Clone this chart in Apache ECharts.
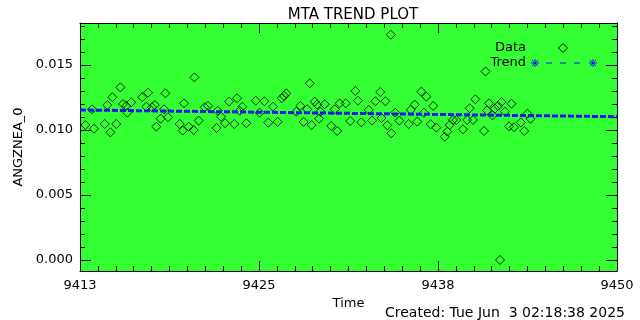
<!DOCTYPE html>
<html>
<head>
<meta charset="utf-8">
<script src="https://cdn.jsdelivr.net/npm/echarts@6/dist/echarts.min.js"></script>
<style>
  html, body {margin: 0; padding: 0; background: #fff;}
  #chart {width: 640px; height: 320px;}
</style>
</head>
<body>
<div id="chart"></div>
<script>
// data
const times = [
  9413.37, 9413.83, 9413.96, 9414.70, 9414.88, 9415.09, 9415.23, 9415.50, 9415.78, 9415.96,
  9416.19, 9416.26, 9416.53, 9417.29, 9417.57, 9417.69, 9417.96, 9418.15, 9418.26, 9418.56,
  9418.79, 9418.88, 9419.06, 9419.87, 9420.08, 9420.17, 9420.49, 9420.83, 9420.88, 9421.18,
  9421.59, 9421.82, 9422.41, 9422.49, 9422.72, 9422.99, 9423.27, 9423.63, 9423.82, 9424.00,
  9424.18, 9424.46, 9425.11, 9425.38, 9425.70, 9425.97, 9426.30, 9426.62, 9426.90, 9427.06,
  9427.21, 9427.90, 9428.18, 9428.41, 9428.66, 9428.83, 9428.96, 9429.17, 9429.33, 9429.47,
  9429.56, 9429.86, 9430.31, 9430.55, 9430.73, 9430.89, 9431.31, 9431.62, 9431.97, 9432.15,
  9432.38, 9432.89, 9433.12, 9433.35, 9433.69, 9433.77, 9434.04, 9434.17, 9434.41, 9434.45,
  9434.72, 9435.00, 9435.65, 9435.79, 9436.06, 9436.24, 9436.52, 9436.70, 9436.86, 9437.16,
  9437.34, 9437.55, 9438.13, 9438.31, 9438.47, 9438.70, 9438.93, 9439.39, 9439.68, 9439.85,
  9440.08, 9440.24, 9440.84, 9440.94, 9441.04, 9441.18, 9441.42, 9441.59, 9441.80, 9441.94,
  9442.04, 9442.28, 9442.56, 9442.73, 9442.90, 9443.38, 9443.61, 9443.83, 9444.04
]
const values = [
  0.01038, 0.01159, 0.01010, 0.01046, 0.01192, 0.00982, 0.01252, 0.01046, 0.01328, 0.01200,
  0.01185, 0.01133, 0.01213, 0.01252, 0.01179, 0.01287, 0.01175, 0.01192, 0.01025, 0.01087,
  0.01159, 0.01282, 0.01098, 0.01046, 0.00995, 0.01205, 0.01025, 0.01000, 0.01405, 0.01072,
  0.01175, 0.01185, 0.01015, 0.01148, 0.01102, 0.01052, 0.01218, 0.01046, 0.01244, 0.01148,
  0.01179, 0.01052, 0.01225, 0.01133, 0.01221, 0.01056, 0.01179, 0.01062, 0.01244, 0.01262,
  0.01282, 0.01141, 0.01185, 0.01062, 0.01159, 0.01359, 0.01038, 0.01218, 0.01195, 0.01087,
  0.01141, 0.01198, 0.01031, 0.01159, 0.00992, 0.01205, 0.01205, 0.01069, 0.01300, 0.01225,
  0.01059, 0.01154, 0.01072, 0.01221, 0.01292, 0.01092, 0.01221, 0.01036, 0.01733, 0.00975,
  0.01133, 0.01072, 0.01046, 0.01154, 0.01195, 0.01064, 0.01295, 0.01133, 0.01256, 0.01044,
  0.01185, 0.01018, 0.00948, 0.00987, 0.01038, 0.01077, 0.01077, 0.01005, 0.01077, 0.01167,
  0.01077, 0.01236, 0.00992, 0.01450, 0.01150, 0.01205, 0.01112, 0.01165, 0.01185, 0.00000,
  0.01215, 0.01141, 0.01028, 0.01202, 0.01021, 0.01058, 0.00992, 0.01125, 0.01086
]
const trendTimes = [9413, 9450]
const trendValues = [0.01154, 0.01102]

const xMin = 9413
const xMax = 9450
const yMin = -0.00085
const yMax = 0.01823
const xTickValues = [9413, 9425.3333, 9437.6667, 9450]
const xTickLabels = ['9413', '9425', '9438', '9450']
const yTickValues = [0, 0.005, 0.010, 0.015]
const yTickLabels = ['0.000', '0.005', '0.010', '0.015']

// minor ticks: 10 per major step on x, 5 on y
const xMinorValues = []
for (let i = 0; i <= 30; i++) xMinorValues.push(xMin + i * (xMax - xMin) / 30)
const yMinorValues = []
for (let i = 0; i <= 18; i++) yMinorValues.push(i * 0.001)

const FONT = 'DejaVu Sans'
const GREEN = '#33ff33'
const BLUE = '#1515f5'

function labelFor(vals, labels) {
    return function (v) {
        for (let i = 0; i < vals.length; i++) {
            if (Math.abs(vals[i] - v) < 1e-6) return labels[i]
        }
        return ''
    }
}

function xAxisOf(position, major, withLabels) {
    return {
        type: 'value', position: position, min: xMin, max: xMax,
        axisLine: {show: major, onZero: false, lineStyle: {color: '#000', width: 1}},
        axisTick: {show: true, inside: true, length: major ? 10 : 5,
            customValues: major ? xTickValues : xMinorValues, lineStyle: {color: '#000'}},
        axisLabel: {show: withLabels, customValues: xTickValues, margin: 8,
            formatter: labelFor(xTickValues, xTickLabels),
            fontFamily: FONT, fontSize: 13, color: '#000'},
        splitLine: {show: false},
        name: withLabels ? 'Time' : '', nameLocation: 'middle', nameGap: 23,
        nameTextStyle: {fontFamily: FONT, fontSize: 13, color: '#000'}
    }
}

function yAxisOf(position, major, withLabels) {
    return {
        type: 'value', position: position, min: yMin, max: yMax,
        axisLine: {show: major, onZero: false, lineStyle: {color: '#000', width: 1}},
        axisTick: {show: true, inside: true, length: major ? 11 : 5,
            customValues: major ? yTickValues : yMinorValues, lineStyle: {color: '#000'}},
        axisLabel: {show: withLabels, customValues: yTickValues, margin: 7,
            formatter: labelFor(yTickValues, yTickLabels),
            fontFamily: FONT, fontSize: 13, color: '#000'},
        splitLine: {show: false},
        name: withLabels ? 'ANGZNEA_0' : '', nameLocation: 'middle', nameGap: 49, nameRotate: 90,
        nameTextStyle: {fontFamily: FONT, fontSize: 13, color: '#000'}
    }
}

function asterisk(cx, cy) {
    const r = 4, d = 3
    const segs = [[-r, 0, r, 0], [0, -r, 0, r], [-d, -d, d, d], [-d, d, d, -d]]
    return {
        type: 'group', x: cx, y: cy,
        children: segs.map(s => ({
            type: 'line', shape: {x1: s[0], y1: s[1], x2: s[2], y2: s[3]},
            style: {stroke: BLUE, lineWidth: 1}
        }))
    }
}

const chart = echarts.init(document.getElementById('chart'), null, {renderer: 'canvas'})
chart.setOption({
    animation: false,
    backgroundColor: '#fff',
    title: {
        text: 'MTA TREND PLOT', left: 348, top: 3, textAlign: 'center',
        textStyle: {fontFamily: FONT, fontSize: 15, fontWeight: 'normal', color: '#000'}
    },
    grid: {left: 80, right: 23, top: 23, bottom: 49, show: true, backgroundColor: GREEN, borderWidth: 0,
        containLabel: false, outerBoundsMode: 'none'},
    xAxis: [
        xAxisOf('bottom', true, true),
        xAxisOf('bottom', false, false),
        xAxisOf('top', true, false),
        xAxisOf('top', false, false)
    ],
    yAxis: [
        yAxisOf('left', true, true),
        yAxisOf('left', false, false),
        yAxisOf('right', true, false),
        yAxisOf('right', false, false)
    ],
    series: [
        {
            name: 'Data', type: 'scatter',
            data: times.map((t, i) => [t, values[i]]),
            symbol: 'diamond', symbolSize: 9,
            itemStyle: {color: 'rgba(0,0,0,0)', borderColor: '#000', borderWidth: 1}
        },
        {
            name: 'Trend', type: 'line',
            data: trendTimes.map((t, i) => [t, trendValues[i]]),
            showSymbol: false,
            lineStyle: {color: BLUE, width: 3, type: [6, 2]}
        }
    ],
    graphic: [
        {type: 'text', x: 526, y: 48, style: {text: 'Data', font: '13px "DejaVu Sans"', fill: '#000', align: 'right', verticalAlign: 'middle'}},
        {type: 'text', x: 526, y: 63, style: {text: 'Trend', font: '13px "DejaVu Sans"', fill: '#000', align: 'right', verticalAlign: 'middle'}},
        {type: 'polygon', shape: {points: [[563, 43.5], [567.5, 48], [563, 52.5], [558.5, 48]]},
            style: {fill: 'none', stroke: '#000', lineWidth: 1}},
        {type: 'line', shape: {x1: 546, y1: 63, x2: 582, y2: 63},
            style: {stroke: BLUE, lineWidth: 1, lineDash: [6, 8]}},
        asterisk(535, 63),
        asterisk(593, 63),
        {type: 'text', x: 625, y: 313, style: {text: 'Created: Tue Jun  3 02:18:38 2025', font: '14px "DejaVu Sans"', fill: '#000', align: 'right', verticalAlign: 'middle'}}
    ]
})
</script>
</body>
</html>
